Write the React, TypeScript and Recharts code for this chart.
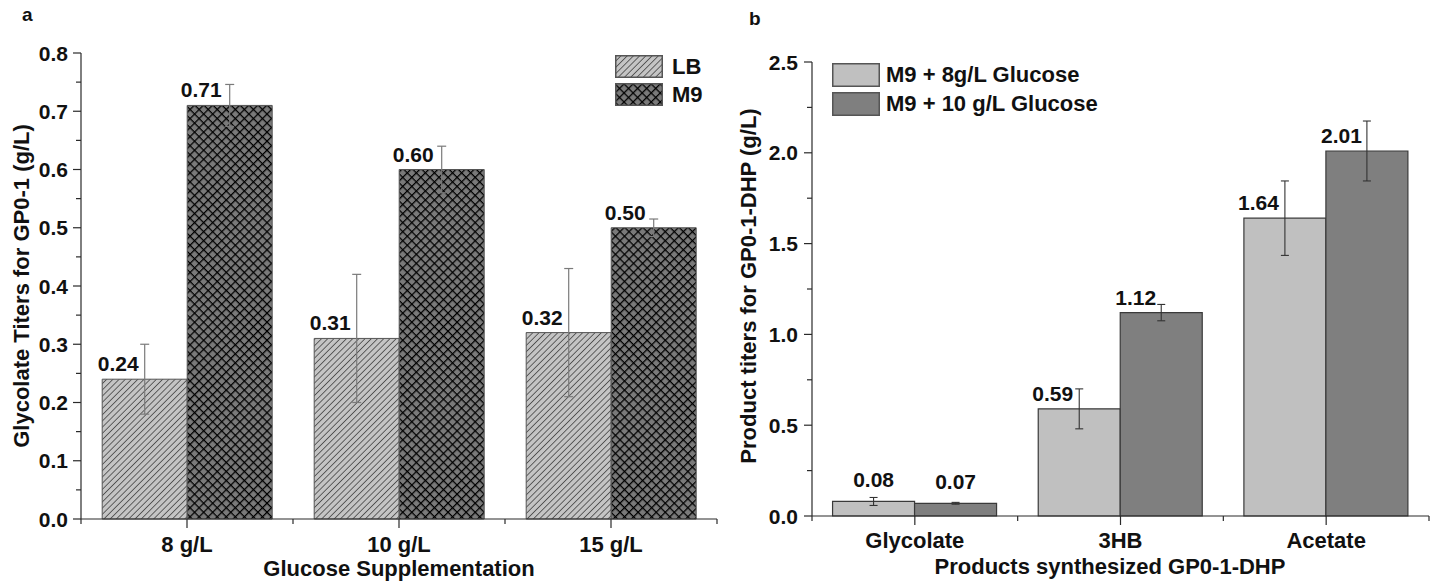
import React from 'react';
import { BarChart, Bar, XAxis, YAxis, ErrorBar, LabelList, Label, Legend } from 'recharts';

// Panel a: glycolate titers for GP0-1
const glucoseLevels = ['8 g/L', '10 g/L', '15 g/L'];
const lbTiters = [0.24, 0.31, 0.32];
const lbErr = [0.06, 0.11, 0.11];
const m9Titers = [0.71, 0.6, 0.5];
const m9Err = [0.036, 0.04, 0.015];
const yTicksA = [0, 0.05, 0.1, 0.15, 0.2, 0.25, 0.3, 0.35, 0.4, 0.45, 0.5, 0.55, 0.6, 0.65, 0.7, 0.75, 0.8];

// Panel b: products synthesized by GP0-1-DHP
const products = ['Glycolate', '3HB', 'Acetate'];
const glucose8 = [0.08, 0.59, 1.64];
const glucose8Err = [0.022, 0.11, 0.205];
const glucose10 = [0.07, 1.12, 2.01];
const glucose10Err = [0.005, 0.045, 0.165];
const yTicksB = [0, 0.25, 0.5, 0.75, 1, 1.25, 1.5, 1.75, 2, 2.25, 2.5];

const dataA = glucoseLevels.map((level, i) => ({
  level,
  lb: lbTiters[i],
  lbErr: lbErr[i],
  m9: m9Titers[i],
  m9Err: m9Err[i],
}));

const dataB = products.map((product, i) => ({
  product,
  g8: glucose8[i],
  g8Err: glucose8Err[i],
  g10: glucose10[i],
  g10Err: glucose10Err[i],
}));

const FONT = '"Liberation Sans", Arial, Helvetica, sans-serif';
const INK = '#111';
const AXIS = '#2a2a2a';

const textStyle = { fontFamily: FONT, fontWeight: 700, fill: INK } as const;

const YTick = (props: any) => {
  const { x, y, payload, majorStep, gap } = props;
  const v = payload.value;
  const major = Math.abs(v / majorStep - Math.round(v / majorStep)) < 1e-6;
  const len = major ? 8 : 5;
  return (
    <g>
      <line x1={x - len} y1={y} x2={x} y2={y} stroke={AXIS} strokeWidth={1.2} />
      {major && (
        <text x={x - gap} y={y} dy="0.36em" textAnchor="end" fontSize={21} {...textStyle}>
          {v.toFixed(1)}
        </text>
      )}
    </g>
  );
};

const XTick = (props: any) => {
  const { x, y, payload, index, baseline } = props;
  const half = payload.offset || 0;
  return (
    <g>
      <line x1={x} y1={y} x2={x} y2={y + 9} stroke={AXIS} strokeWidth={1.2} />
      <line x1={x + half} y1={y} x2={x + half} y2={y + 5} stroke={AXIS} strokeWidth={1.2} />
      {index === 0 && <line x1={x - half} y1={y} x2={x - half} y2={y + 5} stroke={AXIS} strokeWidth={1.2} />}
      <text x={x} y={y + baseline} textAnchor="middle" fontSize={22} {...textStyle}>
        {payload.value}
      </text>
    </g>
  );
};

// value printed above each bar; the tiny glycolate bars get it centered
const valueLabel = (dx: number) => (props: any) => {
  const { x, y, width, value } = props;
  const cx = Number(x) + Number(width) / 2;
  if (value < 0.1) {
    return (
      <text x={cx} y={Number(y) - 14} textAnchor="middle" fontSize={21} {...textStyle}>
        {Number(value).toFixed(2)}
      </text>
    );
  }
  return (
    <text x={cx - dx} y={Number(y) - 8} textAnchor="end" fontSize={21} {...textStyle}>
      {Number(value).toFixed(2)}
    </text>
  );
};

const legendBox = (items: { name: string; fill: string }[], h: number, pitch: number, textGap: number) => () => (
  <div style={{ position: 'relative' }}>
    {items.map((it, i) => (
      <div key={it.name} style={{ display: 'flex', alignItems: 'center', height: h, marginTop: i ? pitch - h : 0 }}>
        <svg width={48} height={h} style={{ display: 'block' }}>
          <rect x={0.75} y={0.75} width={46.5} height={h - 1.5} fill={it.fill} stroke="#555" strokeWidth={1.5} />
        </svg>
        <span style={{ marginLeft: textGap, fontFamily: FONT, fontWeight: 700, fontSize: 22, color: INK, whiteSpace: 'nowrap', lineHeight: 1 }}>
          {it.name}
        </span>
      </div>
    ))}
  </div>
);

const App = () => (
  <div style={{ position: 'absolute', left: 0, top: 0, width: 1439, height: 588, background: '#fff' }}>
    <svg width={1439} height={40} style={{ position: 'absolute', left: 0, top: 0 }}>
      <text x={22} y={21} fontSize={19} {...textStyle}>a</text>
      <text x={749} y={25} fontSize={19} {...textStyle}>b</text>
    </svg>

    <div style={{ position: 'absolute', left: 0, top: 0 }}>
      <BarChart
        width={720}
        height={588}
        data={dataA}
        margin={{ top: 53, right: 3, left: 21, bottom: 19 }}
        barCategoryGap="10%"
        barGap={0}
      >
        <defs>
          <pattern id="hatchLB" width={4.4} height={4.4} patternUnits="userSpaceOnUse" patternTransform="rotate(45)">
            <rect width={4.4} height={4.4} fill="#c4c4c4" />
            <line x1={0} y1={0} x2={0} y2={4.4} stroke="#333" strokeWidth={1.4} />
          </pattern>
          <pattern id="crossM9" width={6.4} height={6.4} patternUnits="userSpaceOnUse" patternTransform="rotate(45)">
            <rect width={6.4} height={6.4} fill="#7a7a7a" />
            <line x1={0} y1={0} x2={0} y2={6.4} stroke="#000" strokeWidth={2.5} />
            <line x1={0} y1={0} x2={6.4} y2={0} stroke="#000" strokeWidth={2.5} />
          </pattern>
        </defs>
        <XAxis
          dataKey="level"
          height={50}
          axisLine={{ stroke: AXIS, strokeWidth: 1.2 }}
          tickLine={false}
          tickSize={0}
          tickMargin={0}
          interval={0}
          tick={(p: any) => <XTick {...p} baseline={33} />}
        >
          <Label
            content={() => (
              <text x={399} y={576} textAnchor="middle" fontSize={22} {...textStyle}>
                Glucose Supplementation
              </text>
            )}
          />
        </XAxis>
        <YAxis
          type="number"
          domain={[0, 0.8]}
          ticks={yTicksA}
          interval={0}
          width={60}
          axisLine={{ stroke: AXIS, strokeWidth: 1.2 }}
          tickLine={false}
          tickSize={0}
          tickMargin={0}
          tick={(p: any) => <YTick {...p} majorStep={0.1} gap={13} />}
        >
          <Label
            content={() => (
              <text x={21} y={286} transform="rotate(-90 21 286)" textAnchor="middle" dominantBaseline="central" fontSize={22} {...textStyle}>
                Glycolate Titers for GP0-1 (g/L)
              </text>
            )}
          />
        </YAxis>
        <Legend
          layout="vertical"
          align="center"
          verticalAlign="middle"
          wrapperStyle={{ position: 'absolute', left: 615, top: 55, width: 'auto' }}
          content={legendBox(
            [
              { name: 'LB', fill: 'url(#hatchLB)' },
              { name: 'M9', fill: 'url(#crossM9)' },
            ],
            23,
            28,
            9,
          )}
        />
        <Bar dataKey="lb" name="LB" fill="url(#hatchLB)" stroke="#555" strokeWidth={1} isAnimationActive={false}>
          <ErrorBar dataKey="lbErr" direction="y" width={4.5} stroke="#7a7a7a" strokeWidth={1.2} />
          <LabelList dataKey="lb" content={valueLabel(6)} />
        </Bar>
        <Bar dataKey="m9" name="M9" fill="url(#crossM9)" stroke="#555" strokeWidth={1} isAnimationActive={false}>
          <ErrorBar dataKey="m9Err" direction="y" width={4.5} stroke="#7a7a7a" strokeWidth={1.2} />
          <LabelList dataKey="m9" content={valueLabel(8)} />
        </Bar>
      </BarChart>
    </div>

    <div style={{ position: 'absolute', left: 720, top: 0 }}>
      <BarChart
        width={719}
        height={588}
        data={dataB}
        margin={{ top: 62, right: 10, left: 32, bottom: 22 }}
        barCategoryGap="10%"
        barGap={0}
      >
        <XAxis
          dataKey="product"
          height={50}
          axisLine={{ stroke: AXIS, strokeWidth: 1.2 }}
          tickLine={false}
          tickSize={0}
          tickMargin={0}
          interval={0}
          tick={(p: any) => <XTick {...p} baseline={32} />}
        >
          <Label
            content={() => (
              <text x={390} y={574} textAnchor="middle" fontSize={22} {...textStyle}>
                Products synthesized GP0-1-DHP
              </text>
            )}
          />
        </XAxis>
        <YAxis
          type="number"
          domain={[0, 2.5]}
          ticks={yTicksB}
          interval={0}
          width={60}
          axisLine={{ stroke: AXIS, strokeWidth: 1.2 }}
          tickLine={false}
          tickSize={0}
          tickMargin={0}
          tick={(p: any) => <YTick {...p} majorStep={0.5} gap={14} />}
        >
          <Label
            content={() => (
              <text x={28} y={286} transform="rotate(-90 28 286)" textAnchor="middle" dominantBaseline="central" fontSize={22} {...textStyle}>
                Product titers for GP0-1-DHP (g/L)
              </text>
            )}
          />
        </YAxis>
        <Legend
          layout="vertical"
          align="center"
          verticalAlign="middle"
          wrapperStyle={{ position: 'absolute', left: 112, top: 63, width: 'auto' }}
          content={legendBox(
            [
              { name: 'M9 + 8g/L Glucose', fill: '#c0c0c0' },
              { name: 'M9 + 10 g/L Glucose', fill: '#7f7f7f' },
            ],
            24,
            29,
            6,
          )}
        />
        <Bar dataKey="g8" name="M9 + 8g/L Glucose" fill="#c0c0c0" stroke="#3a3a3a" strokeWidth={1.2} isAnimationActive={false}>
          <ErrorBar dataKey="g8Err" direction="y" width={4} stroke="#333" strokeWidth={1.1} />
          <LabelList dataKey="g8" content={valueLabel(6)} />
        </Bar>
        <Bar dataKey="g10" name="M9 + 10 g/L Glucose" fill="#7f7f7f" stroke="#3a3a3a" strokeWidth={1.2} isAnimationActive={false}>
          <ErrorBar dataKey="g10Err" direction="y" width={4} stroke="#333" strokeWidth={1.1} />
          <LabelList dataKey="g10" content={valueLabel(5)} />
        </Bar>
      </BarChart>
    </div>
  </div>
);

export default App;
